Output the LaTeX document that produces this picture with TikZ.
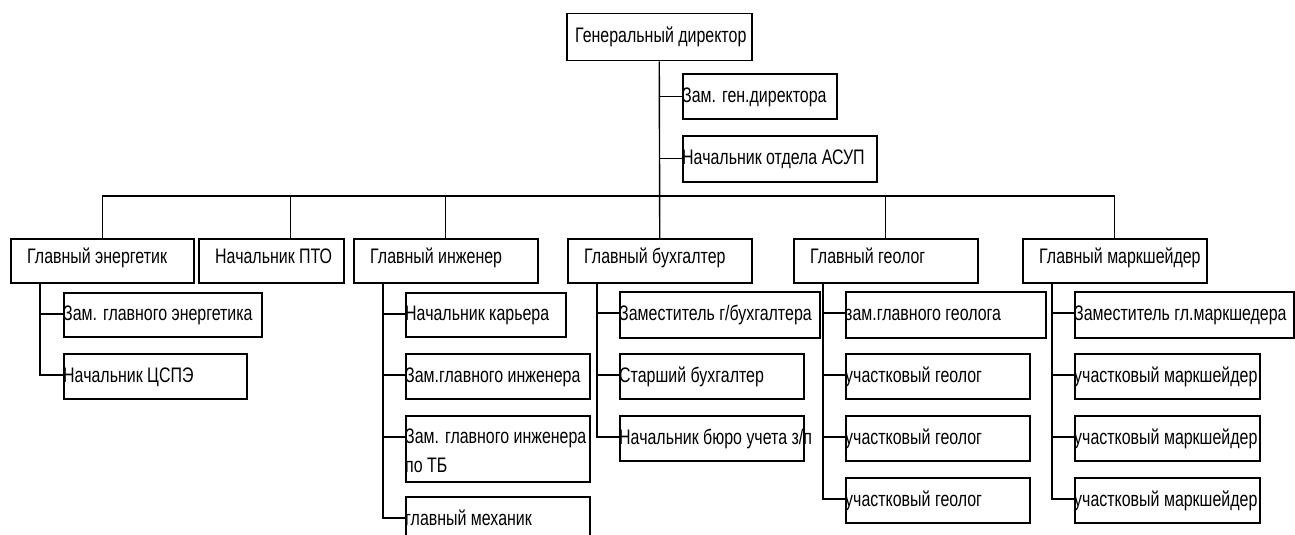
\documentclass[tikz,border=0pt]{standalone}
\usepackage{fontspec}
\newfontfamily\nar[FakeStretch=0.76]{Liberation Sans}
\usetikzlibrary{calc}
\tikzset{
  boxst/.style={draw=black, line width=1.5pt, inner sep=0pt, fill=white},
  lbl/.style={inner sep=0pt, font=\nar\fontsize{21}{25}\selectfont, text=black},
  conn/.style={draw=black, line width=1.4pt}
}
% name, x1, y1, x2, y2, text inset, baseline offset, text
\newcommand\bx[8]{%
  \node[boxst, minimum width={#4-#2}, minimum height={#5-#3}, anchor=north west] (#1) at (#2,#3) {};
  \node[lbl, anchor=base west] (#1t) at ($(#1.west)+(#6,#7)$) {#8};
}
\begin{document}
\begin{tikzpicture}[x=1pt,y=-1pt]
\useasboundingbox (0,0) rectangle (1295,535);
\clip (0,0) rectangle (1295,535);
% top
\bx{gen}{566}{13}{751}{60}{9}{5.5}{Генеральный директор}
\bx{zg}{682}{73}{836}{118}{0}{6}{Зам. ген.директора}
\bx{asup}{682}{135}{876}{181}{0}{6}{Начальник отдела АСУП}
% level 2
\bx{en}{10}{238}{193}{282}{17}{3}{Главный энергетик}
\bx{pto}{198}{238}{343}{282}{17}{3}{Начальник ПТО}
\bx{ing}{353}{238}{537}{282}{17}{3}{Главный инженер}
\bx{buh}{567}{238}{751}{282}{17}{3}{Главный бухгалтер}
\bx{geo}{793}{238}{977}{282}{17}{3}{Главный геолог}
\bx{mk}{1022}{238}{1206}{282}{17}{3}{Главный маркшейдер}
% energetik
\bx{zen}{63}{292}{261}{336}{0}{6}{Зам. главного энергетика}
\bx{csp}{63}{353}{246}{398}{0}{6}{Начальник ЦСПЭ}
% inzhener
\bx{kar}{405}{292}{565}{336}{0}{6}{Начальник карьера}
\bx{zgi}{405}{353}{589}{398}{0}{6}{Зам.главного инженера}
\node[boxst, minimum width=184, minimum height=66, anchor=north west] (tb) at (405,415) {};
\node[lbl, anchor=base west] (tbt) at ($(tb.north west)+(0,28)$) {Зам. главного инженера};
\node[lbl, anchor=base west] (tbu) at ($(tb.north west)+(0,57)$) {по ТБ};
\bx{mech}{405}{496}{589}{541}{0}{6}{главный механик}
% buhgalter
\bx{zb}{619}{291}{819}{337}{0}{6}{Заместитель г/бухгалтера}
\bx{sb}{619}{353}{803}{398}{0}{6}{Старший бухгалтер}
\bx{nb}{619}{415}{803}{460}{0}{6}{Начальник бюро учета з/п}
% geolog
\bx{zgg}{845}{291}{1045}{337}{0}{6}{зам.главного геолога}
\bx{ugA}{845}{353}{1029}{398}{0}{6}{участковый геолог}
\bx{ugB}{845}{415}{1029}{460}{0}{6}{участковый геолог}
\bx{ugC}{845}{477}{1029}{522}{0}{6}{участковый геолог}
% marksheider
\bx{zm}{1074}{291}{1293}{337}{0}{6}{Заместитель гл.маркшедера}
\bx{umA}{1074}{353}{1259}{398}{0}{6}{участковый маркшейдер}
\bx{umB}{1074}{415}{1259}{460}{0}{6}{участковый маркшейдер}
\bx{umC}{1074}{477}{1259}{522}{0}{6}{участковый маркшейдер}
% connectors
\coordinate (bus) at (659,196);
\draw[conn] (gen.south) -- (buh.north);
\draw[conn] (gen.south |- zg.west) -- (zg.west);
\draw[conn] (gen.south |- asup.west) -- (asup.west);
\draw[conn] (en.north) |- (bus) -| (mk.north);
\draw[conn] ([xshift=19.5pt]pto.north) -- ([xshift=19.5pt]pto.north |- bus);
\draw[conn] (ing.north) -- (ing.north |- bus);
\draw[conn] (geo.north) -- (geo.north |- bus);
\foreach \p/\c in {en/zen, en/csp, ing/kar, ing/zgi, ing/tb, ing/mech,
  buh/zb, buh/sb, buh/nb, geo/zgg, geo/ugA, geo/ugB, geo/ugC,
  mk/zm, mk/umA, mk/umB, mk/umC}
  \draw[conn] ([xshift=30pt]\p.south west) |- ([yshift=-22pt]\c.north west);
\end{tikzpicture}
\end{document}
